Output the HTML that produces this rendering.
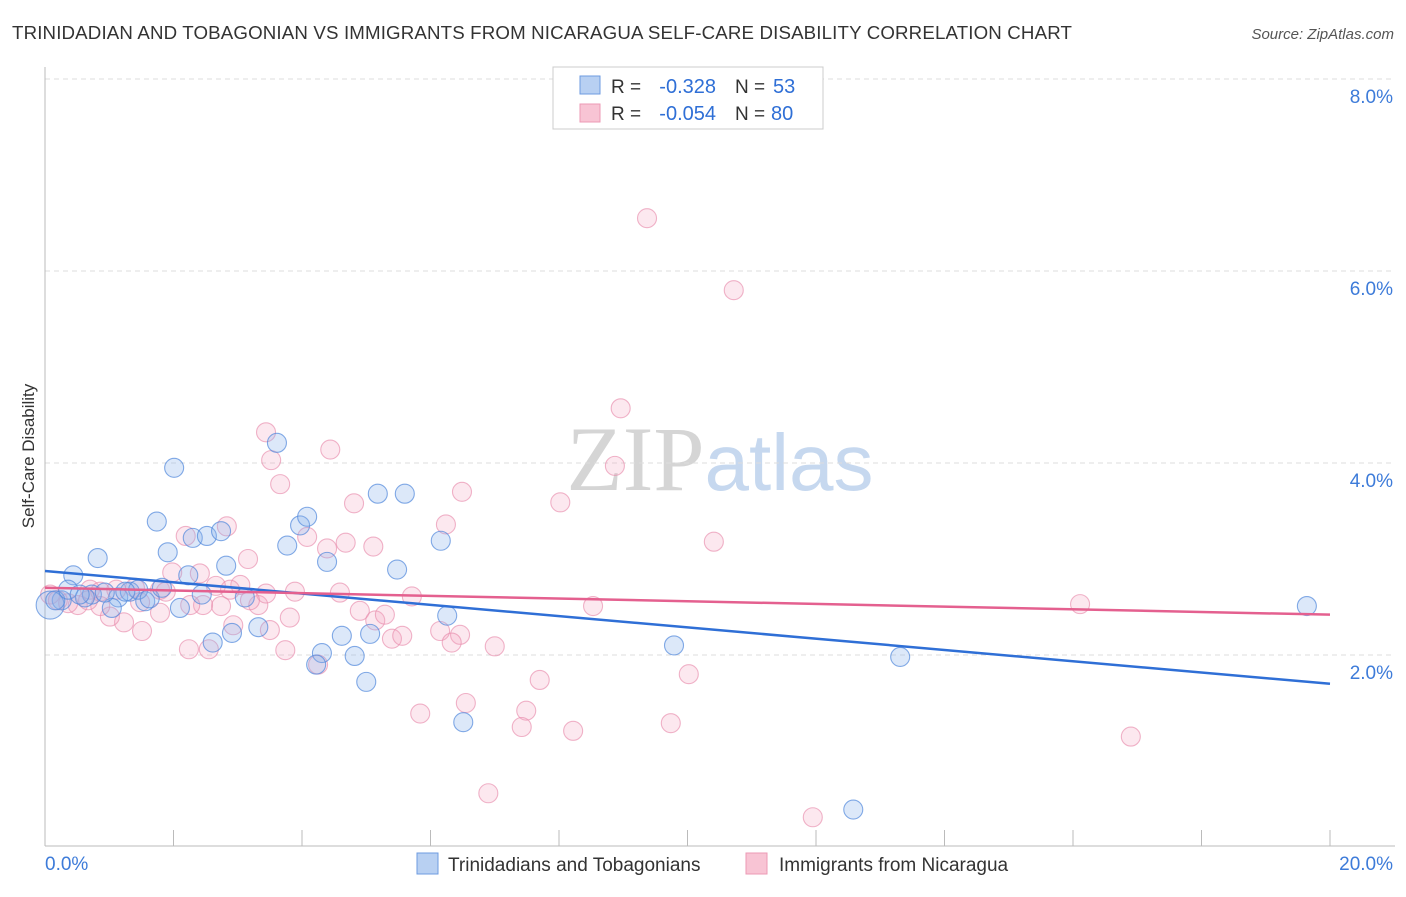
<!DOCTYPE html>
<html><head><meta charset="utf-8"><style>
body{margin:0;background:#fff;font-family:"Liberation Sans",sans-serif}
svg text{font-family:"Liberation Sans",sans-serif}
</style></head><body>
<svg id="chart" width="1406" height="892" xmlns="http://www.w3.org/2000/svg">
<text x="12" y="39" font-size="18.7" letter-spacing="0.15" fill="#333">TRINIDADIAN AND TOBAGONIAN VS IMMIGRANTS FROM NICARAGUA SELF-CARE DISABILITY CORRELATION CHART</text>
<text x="1394" y="39" font-size="15" fill="#555" text-anchor="end" font-style="italic">Source: ZipAtlas.com</text>
<text x="720" y="490" font-size="92" text-anchor="middle" fill="#ddd"><tspan font-family="Liberation Serif" fill="#d5d5d5">ZIP</tspan><tspan fill="#c6d8ef" font-size="80">atlas</tspan></text>
<g id="grid"></g>
<g id="axes"></g>
<g id="points"></g>
<g id="trends"></g>
<text transform="translate(34,456) rotate(-90)" font-size="17" fill="#333" text-anchor="middle">Self-Care Disability</text>
<g>
<rect x="553" y="67" width="270" height="62" fill="#fff" stroke="#ccc"/>
<rect x="580" y="76" width="20" height="18" fill="#b8d0f2" stroke="#6e9be0"/>
<rect x="580" y="104" width="20" height="18" fill="#f8c4d4" stroke="#ec9ab5"/>
<text x="611" y="93" font-size="19" fill="#333">R =</text>
<text x="716" y="93" font-size="20" fill="#2f6fd6" text-anchor="end">-0.328</text>
<text x="735" y="93" font-size="19" fill="#333">N =</text>
<text x="773" y="93" font-size="20" fill="#2f6fd6">53</text>
<text x="611" y="120" font-size="19" fill="#333">R =</text>
<text x="716" y="120" font-size="20" fill="#2f6fd6" text-anchor="end">-0.054</text>
<text x="735" y="120" font-size="19" fill="#333">N =</text>
<text x="771" y="120" font-size="20" fill="#2f6fd6">80</text>
</g>
<g>
<rect x="417" y="853" width="21" height="21" fill="#b8d0f2" stroke="#6e9be0"/>
<text x="448" y="871" font-size="19" fill="#333">Trinidadians and Tobagonians</text>
<rect x="746" y="853" width="21" height="21" fill="#f8c4d4" stroke="#ec9ab5"/>
<text x="779" y="871" font-size="19" fill="#333">Immigrants from Nicaragua</text>
</g>
</svg>
<script>
const blueX=[2.01,1.74,1.91,2.30,2.52,2.74,2.23,2.10,2.44,2.61,2.91,2.82,3.11,3.32,3.61,3.77,3.97,4.08,4.39,4.31,4.22,4.62,4.82,5.00,5.06,5.18,5.48,5.60,6.16,6.26,6.51,9.79,13.31,12.58,19.64,0.82,0.44,1.14,1.32,1.56,1.45,1.63,1.82,1.04,0.73,0.26,0.08,0.16,0.36,0.62,0.93,1.25,0.54];
const blueY=[3.95,3.39,3.07,3.22,3.24,3.29,2.83,2.49,2.63,2.13,2.23,2.93,2.60,2.29,4.21,3.14,3.35,3.44,2.97,2.02,1.90,2.20,1.99,1.72,2.22,3.68,2.89,3.68,3.19,2.41,1.30,2.10,1.98,0.39,2.51,3.01,2.83,2.60,2.66,2.56,2.68,2.59,2.70,2.49,2.63,2.57,2.52,2.57,2.68,2.60,2.65,2.66,2.63];
const pinkX=[9.37,10.72,8.96,8.87,8.02,6.49,6.24,10.41,3.44,3.52,3.66,4.44,4.81,5.11,4.68,4.39,4.08,2.83,2.19,1.98,2.41,2.66,3.04,3.16,3.32,2.93,2.74,2.55,2.24,1.79,1.51,1.23,1.01,0.86,0.70,0.51,0.36,0.08,0.20,1.48,1.79,1.40,1.11,2.46,3.44,3.81,3.89,4.59,4.90,5.14,5.29,5.40,5.56,5.71,6.15,6.46,6.33,7.00,6.55,5.84,7.49,7.42,7.70,8.22,8.53,10.02,9.74,6.90,11.95,16.11,16.90,3.74,4.25,3.50,3.19,1.88,2.26,2.88,0.86,0.67];
const pinkY=[6.55,5.80,4.57,3.97,3.59,3.70,3.36,3.18,4.32,4.03,3.78,4.14,3.58,3.13,3.17,3.11,3.23,3.34,3.24,2.86,2.85,2.72,2.73,3.00,2.52,2.31,2.51,2.06,2.06,2.44,2.25,2.34,2.40,2.51,2.68,2.52,2.54,2.63,2.57,2.55,2.68,2.70,2.68,2.52,2.64,2.39,2.66,2.65,2.46,2.36,2.42,2.17,2.20,2.61,2.25,2.21,2.13,2.09,1.50,1.39,1.42,1.25,1.74,1.21,2.51,1.80,1.29,0.56,0.31,2.53,1.15,2.05,1.90,2.26,2.57,2.66,2.52,2.68,2.66,2.57];
const trendStart=[2.875,2.70];
const trendEnd=[1.70,2.42];
const yTicks=[2,4,6,8];
const xTicks=[0,2,4,6,8,10,12,14,16,18,20];
const NS="http://www.w3.org/2000/svg";
const sx=v=>45+v*64.25, sy=v=>847-v*96;
function mk(tag,attrs,parent){const e=document.createElementNS(NS,tag);for(const k in attrs)e.setAttribute(k,attrs[k]);parent.appendChild(e);return e;}
const grid=document.getElementById('grid'),axes=document.getElementById('axes'),pts=document.getElementById('points'),tr=document.getElementById('trends');
yTicks.forEach(t=>{
 const l=mk('line',{x1:45,x2:1395,y1:sy(t),y2:sy(t),stroke:'#ddd','stroke-dasharray':'5,4'},grid);
 
 
 const tx=mk('text',{x:1393,y:sy(t)+24,'font-size':19,fill:'#3d7bd9','text-anchor':'end'},axes);
 tx.textContent=t.toFixed(1)+'%';
 
 
});
const ax=mk('line',{x1:45,x2:1395,y1:846,y2:846,stroke:'#bbb'},axes);


const ay=mk('line',{x1:45,x2:45,y1:67,y2:846,stroke:'#bbb'},axes);


xTicks.forEach(t=>{
 const l=mk('line',{x1:sx(t),x2:sx(t),y1:830,y2:846,stroke:'#bbb'},axes);
 
 
});
[[0,'start',45],[20,'end',1393]].forEach(([v,a,x])=>{
 const tx=mk('text',{x:x,y:870,'font-size':19,fill:'#3d7bd9','text-anchor':a},axes);
 tx.textContent=v.toFixed(1)+'%';
 
 
});
pinkX.forEach((x,i)=>{
 const c=mk('circle',{cx:sx(x),cy:sy(pinkY[i]),r:9.5,fill:'rgba(244,165,192,0.25)',stroke:'rgba(232,140,172,0.65)','stroke-width':1.1},pts);
 
 
});
blueX.forEach((x,i)=>{
 const c=mk('circle',{cx:sx(x),cy:sy(blueY[i]),r:(i==46?14:9.5),fill:'rgba(140,178,235,0.3)',stroke:'rgba(80,135,220,0.7)','stroke-width':1.1},pts);
 
 
});
['#2f6fd6','#e4608f'].forEach((col,i)=>{
 const l=mk('line',{x1:sx(0),y1:sy(trendStart[i]),x2:sx(20),y2:sy(trendEnd[i]),stroke:col,'stroke-width':2.5},tr);
 
 
});
</script>
</body></html>
